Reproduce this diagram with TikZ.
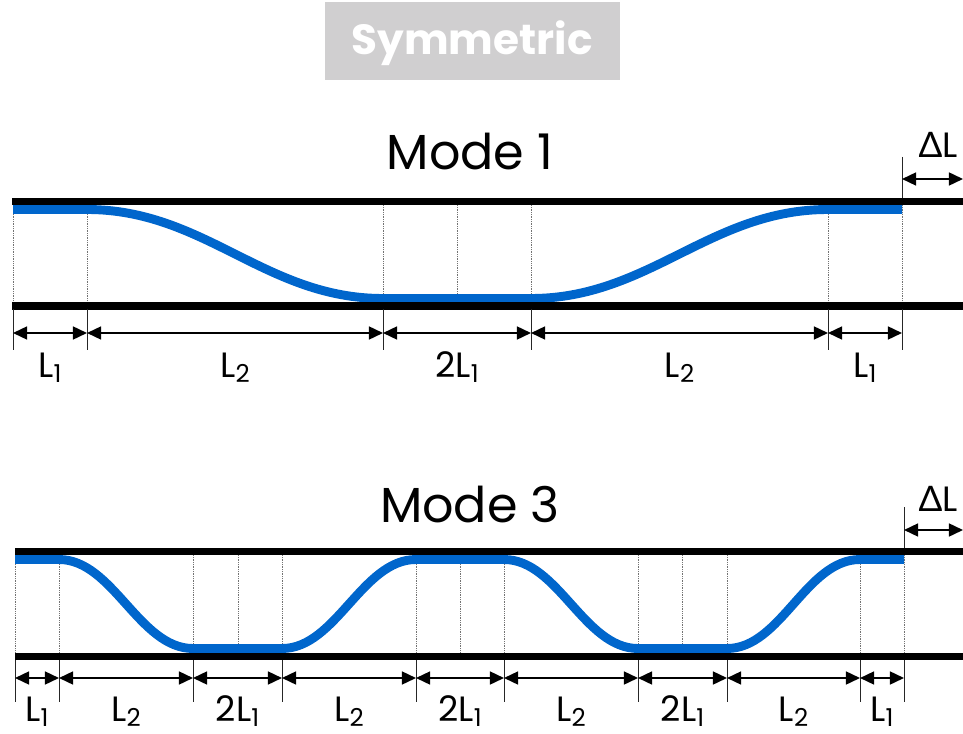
\documentclass[tikz,border=0pt]{standalone}
\usepackage{fontspec}
\setmainfont{Poppins}
\newfontfamily\deltafont{Lato}
\usetikzlibrary{arrows.meta,calc}
\definecolor{wgblue}{RGB}{0,102,204}
\definecolor{titlegray}{RGB}{208,207,208}
\newcommand{\lab}[1]{L\raisebox{-5pt}{\fontsize{21}{22}\selectfont #1}}

\begin{document}
\begin{tikzpicture}[x=0.3mm, y=-0.3mm,
    rail/.style={line width=6pt},
    wave/.style={wgblue, line width=7.6pt},
    guide/.style={black!55, densely dotted, line width=0.5pt},
    tick/.style={black!85, line width=0.85pt},
    dim/.style={{Triangle[length=12pt,width=11pt]}-{Triangle[length=12pt,width=11pt]}, line width=1.7pt},
    lbl/.style={anchor=base, inner sep=0pt, font=\fontsize{30}{32}\selectfont},
    modetitle/.style={anchor=base, inner sep=0pt, font=\fontsize{42}{44}\selectfont}
  ]
  \fill[white] (0,0) rectangle (963,734);
  \useasboundingbox (0,0) rectangle (963,734);

  % title
  \fill[titlegray] (325,2) rectangle (620,80);
  \node[anchor=base, inner sep=0pt, text=white, font=\fontsize{36}{38}\selectfont\bfseries] (title) at (472,55) {Symmetric};

  % Mode 1
  \node[modetitle] (mode1) at (470,170) {Mode 1};
  \foreach \x in {13,87,383,457,531,828,902}
    \draw[guide] (\x,205) -- (\x,303);
  \draw[wave] (13,209.5) -- (87,209.5)
    .. controls +(118,0) and +(-118,0) .. (383,298.5) -- (531,298.5)
    .. controls +(118,0) and +(-118,0) .. (828,209.5) -- (902,209.5);
  \draw[rail] (12,201.5) -- (975,201.5);
  \draw[rail] (12,306) -- (975,306);
  \foreach \x [count=\i] in {13,87,383,531,828,902} {
    \draw[tick] (\x,309) -- (\x,350);
    \coordinate (p\i) at (\x,333);
  }
  \foreach \a/\b/\t in {1/2/{\lab{1}},2/3/{\lab{2}},3/4/{2\lab{1}},4/5/{\lab{2}},5/6/{\lab{1}}} {
    \draw[dim] (p\a) -- (p\b);
    \node[lbl] at ($(p\a)!0.5!(p\b)+(0,44)$) {\t};
  }
  % offset
  \draw[tick] (902,157) -- (902,198);
  \coordinate (d1) at (902,179);
  \coordinate (d1e) at (963,179);
  \draw[dim] (d1) -- (d1e);
  \node[lbl] (dl1) at (938,158) {{\deltafont Δ}L};

  % Mode 3
  \node[modetitle] (mode3) at (470,522) {Mode 3};
  \foreach \x in {15,59,193,238,282,416,460,504,638,682,727,860,904}
    \draw[guide] (\x,555) -- (\x,653);
  \draw[wave] (15,559.5) -- (59,559.5)
    .. controls +(54,0) and +(-54,0) .. (193,648.5) -- (282,648.5)
    .. controls +(54,0) and +(-54,0) .. (416,559.5) -- (504,559.5)
    .. controls +(54,0) and +(-54,0) .. (638,648.5) -- (727,648.5)
    .. controls +(54,0) and +(-54,0) .. (860,559.5) -- (904,559.5);
  \draw[rail] (15,551.5) -- (975,551.5);
  \draw[rail] (15,656.5) -- (975,656.5);
  \foreach \x [count=\i] in {15,59,193,282,416,504,638,727,860,904} {
    \draw[tick] (\x,660) -- (\x,702);
    \coordinate (q\i) at (\x,678);
  }
  \foreach \a/\b/\t in {1/2/{\lab{1}},2/3/{\lab{2}},3/4/{2\lab{1}},4/5/{\lab{2}},5/6/{2\lab{1}},6/7/{\lab{2}},7/8/{2\lab{1}},8/9/{\lab{2}},9/10/{\lab{1}}} {
    \draw[dim] (q\a) -- (q\b);
    \node[lbl] at ($(q\a)!0.5!(q\b)+(0,43)$) {\t};
  }
  % offset
  \draw[tick] (904,507) -- (904,548);
  \coordinate (d3) at (904,530);
  \coordinate (d3e) at (963,530);
  \draw[dim] (d3) -- (d3e);
  \node[lbl] (dl3) at (938,511) {{\deltafont Δ}L};
\end{tikzpicture}
\end{document}
